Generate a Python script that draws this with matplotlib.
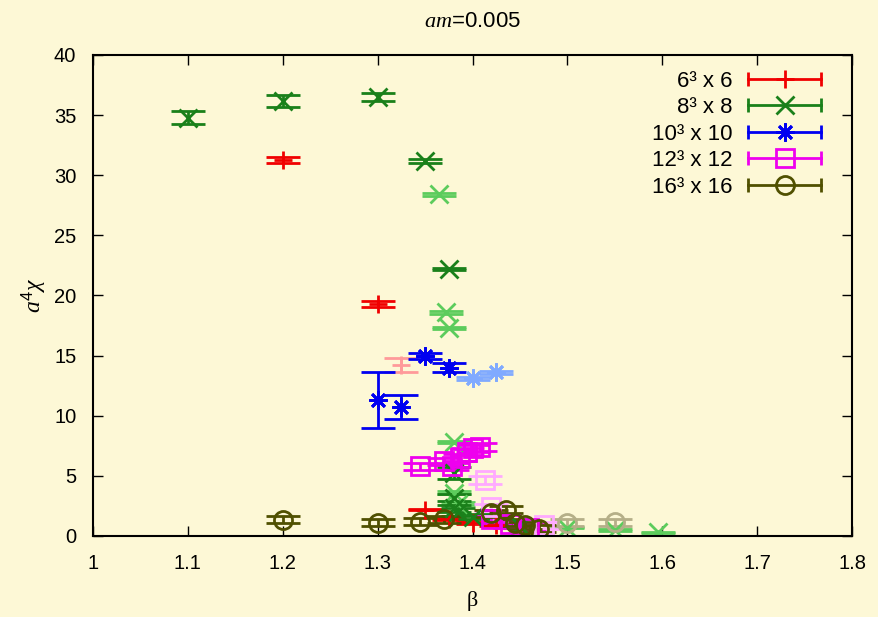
import numpy as np
import matplotlib
matplotlib.use("Agg")
import matplotlib.pyplot as plt
from matplotlib.lines import Line2D
from matplotlib.legend_handler import HandlerBase

plt.rcParams['font.family'] = ['Liberation Sans', 'DejaVu Sans']
plt.rcParams['mathtext.fontset'] = 'custom'
plt.rcParams['mathtext.rm'] = 'Liberation Sans'
plt.rcParams['mathtext.it'] = 'Liberation Serif:italic'

# 6^3 x 6
beta_6 = [1.2, 1.3, 1.35, 1.375, 1.4, 1.425]
chi_6 = [31.3, 19.3, 2.2, 1.4, 1.1, 0.9]
err_6 = [0.25, 0.25, 0.05, 0.1, 0.1, 0.1]
beta_6b = [1.325]
chi_6b = [14.2]
err_6b = [0.6]

# 8^3 x 8
beta_8 = [1.1, 1.2, 1.3, 1.35, 1.375, 1.38, 1.38, 1.38, 1.385, 1.4, 1.45]
chi_8 = [34.8, 36.2, 36.5, 31.2, 22.2, 5.2, 3.2, 2.3, 2.0, 1.6, 0.8]
err_8 = [0.55, 0.5, 0.3, 0.15, 0.1, 0.5, 0.3, 0.3, 0.3, 0.2, 0.1]
beta_8b = [1.365, 1.372, 1.375, 1.38, 1.38, 1.385, 1.5, 1.55, 1.595]
chi_8b = [28.4, 18.6, 17.3, 7.8, 3.6, 2.7, 0.7, 0.5, 0.3]
err_8b = [0.1, 0.1, 0.1, 0.1, 0.1, 0.1, 0.05, 0.05, 0.05]

# 10^3 x 10
beta_10 = [1.3, 1.325, 1.35, 1.375]
chi_10 = [11.3, 10.7, 15.0, 14.0]
err_10 = [2.33, 1.0, 0.25, 0.35]
beta_10b = [1.4, 1.425]
chi_10b = [13.1, 13.6]
err_10b = [0.15, 0.1]

# 12^3 x 12
beta_12 = [1.345, 1.37, 1.378, 1.387, 1.394, 1.40, 1.408, 1.42, 1.44, 1.46]
chi_12 = [5.8, 6.2, 5.8, 6.5, 7.0, 7.3, 7.4, 1.4, 1.0, 0.7]
err_12 = [0.3, 0.3, 0.3, 0.3, 0.3, 0.3, 0.3, 0.3, 0.3, 0.3]
beta_12b = [1.413, 1.42, 1.475]
chi_12b = [4.66, 2.4, 0.9]
err_12b = [0.3, 0.3, 0.3]

# 16^3 x 16
beta_16 = [1.2, 1.3, 1.345, 1.37, 1.42, 1.435, 1.445, 1.455, 1.47]
chi_16 = [1.35, 1.1, 1.2, 1.4, 1.9, 2.2, 1.1, 0.9, 0.6]
err_16 = [0.3, 0.3, 0.3, 0.3, 0.3, 0.3, 0.3, 0.3, 0.3]
beta_16b = [1.5, 1.55]
chi_16b = [1.1, 1.15]
err_16b = [0.3, 0.3]

labels = ['6³ x 6', '8³ x 8', '10³ x 10', '12³ x 12', '16³ x 16']
colors = ['#f00000', '#1a801a', '#0000f0', '#ee00ee', '#505000']
light = ['#ff9a9a', '#5ccc5c', '#80aaff', '#ffaaff', '#b5af88']
markers = ['+', 'x', (8, 2, 0), 's', 'o']
msizes = [13, 13, 13, 13, 13]

series = [
    (beta_6, chi_6, err_6, beta_6b, chi_6b, err_6b),
    (beta_8, chi_8, err_8, beta_8b, chi_8b, err_8b),
    (beta_10, chi_10, err_10, beta_10b, chi_10b, err_10b),
    (beta_12, chi_12, err_12, beta_12b, chi_12b, err_12b),
    (beta_16, chi_16, err_16, beta_16b, chi_16b, err_16b),
]

bg = '#fdf8d6'


class HandlerXErr(HandlerBase):
    # gnuplot-like key sample: horizontal bar with end caps and marker
    def create_artists(self, legend, orig_handle, xdescent, ydescent,
                       width, height, fontsize, trans):
        y = height / 2 - ydescent
        x0, x1 = -xdescent, width - xdescent
        c = orig_handle.get_color()
        line = Line2D([x0, x1], [y, y], color=c, lw=2)
        caps = Line2D([x0, x1], [y, y], ls='none', marker='|', ms=10,
                      mew=2, color=c)
        mark = Line2D([(x0 + x1) / 2], [y], ls='none',
                      marker=orig_handle.get_marker(),
                      ms=orig_handle.get_markersize(), mew=2,
                      color=c, fillstyle='none')
        for a in (line, caps, mark):
            a.set_transform(trans)
        return [line, caps, mark]


fig = plt.figure(figsize=(8.79, 6.17), dpi=100)
fig.patch.set_facecolor(bg)
ax = fig.add_axes([0.1058, 0.1313, 0.8635, 0.7796])
ax.set_facecolor(bg)

handles = []
for i, (b, c, e, bb, cb, eb) in enumerate(series):
    ax.errorbar(bb, cb, yerr=eb, ls='none', marker=markers[i], color=light[i],
                ms=msizes[i], mew=2, fillstyle='none', capsize=12.5,
                capthick=2.2, elinewidth=2)
    ax.errorbar(b, c, yerr=e, ls='none', marker=markers[i], color=colors[i],
                ms=msizes[i], mew=2, fillstyle='none', capsize=12.5,
                capthick=2.2, elinewidth=2)
    handles.append(Line2D([], [], color=colors[i], marker=markers[i],
                          ms=msizes[i]))

ax.set_xlim(1.0, 1.8)
ax.set_ylim(0, 40)
ax.set_xticks(np.arange(1.0, 1.81, 0.1))
ax.set_xticklabels(['1', '1.1', '1.2', '1.3', '1.4', '1.5', '1.6', '1.7', '1.8'])
ax.set_yticks(np.arange(0, 41, 5))
ax.tick_params(direction='in', length=7, width=1, top=True, right=True,
               labelsize=14.5)
ax.tick_params(axis='x', pad=13)
ax.tick_params(axis='y', pad=12)
for s in ax.spines.values():
    s.set_linewidth(1.5)

ax.set_title(r'$\mathit{am}$=0.005', fontsize=16, pad=20)
ax.set_xlabel('β', fontsize=16, family='Liberation Serif', labelpad=13)
ax.set_ylabel(r'$a^4\chi$', fontsize=17, labelpad=4)

ax.legend(handles, labels, loc='upper right', bbox_to_anchor=(0.98, 1.0),
          frameon=False, fontsize=16,
          markerfirst=False, handlelength=3.3, handletextpad=0.7,
          labelspacing=0.25, borderaxespad=0.4,
          borderpad=0.3, handler_map={Line2D: HandlerXErr()})

fig.savefig('out.png', dpi=100, facecolor=bg)
